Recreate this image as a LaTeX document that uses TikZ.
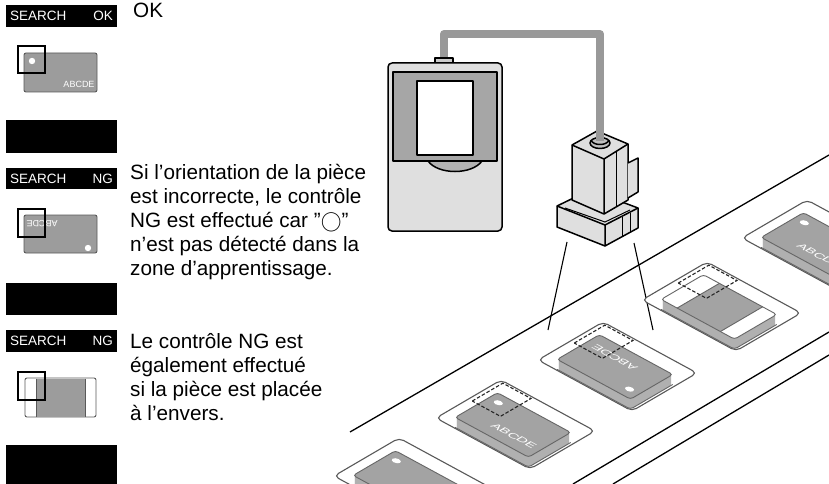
\documentclass[tikz,border=0pt]{standalone}
\usepackage{fontspec}
\setmainfont{Liberation Sans}
\begin{document}
\begin{tikzpicture}[x=1pt,y=-1pt,
  panelblack/.style={fill=black,draw=none},
  cardgray/.style={fill=gray!78,draw=black!65,line width=0.9pt,rounded corners=2pt},
  sqr/.style={draw=black,line width=1.3pt},
  hdr/.style={text=white,font=\fontsize{13.5}{14}\selectfont,inner sep=0pt},
  txt/.style={anchor=north west,align=left,inner sep=0pt,font=\fontsize{20.7}{24}\selectfont},
  dev/.style={draw=black,line width=1.5pt,line join=round},
  tray/.style={draw=black!65,line width=1.1pt,rounded corners=5pt},
  zonedash/.style={draw=black!85,line width=1.1pt,dash pattern=on 3.5pt off 2pt}]
\useasboundingbox (0,0) rectangle (829,484);
\clip (0,0) rectangle (829,484);
% ---------- left panels ----------
\foreach \t/\b/\hb/\wb in {5/153/27/120,168/315/189/283,330/484/352/445}{
  \fill[panelblack] (6,\t) rectangle (117,\b);
  \fill[white] (6,\hb) rectangle (117,\wb);
}
\node[hdr,anchor=west] (h1) at (10,16) {SEARCH};
\node[hdr,anchor=east] (s1) at (113,16) {OK};
\node[hdr,anchor=west] (h2) at (10,178.5) {SEARCH};
\node[hdr,anchor=east] (s2) at (113,178.5) {NG};
\node[hdr,anchor=west] (h3) at (10,341) {SEARCH};
\node[hdr,anchor=east] (s3) at (113,341) {NG};
% panel 1
\draw[cardgray] (24,53) rectangle (97,92);
\fill[white] (32,61) circle (3.2);
\node[text=white,inner sep=0pt,font=\fontsize{9}{10}\selectfont] (c1) at (79,84) {ABCDE};
\draw[sqr] (18,46) rectangle (45,73);
% panel 2
\draw[cardgray] (24,215) rectangle (97,253);
\fill[white] (88,248) circle (3.2);
\node[text=white,inner sep=0pt,rotate=180,font=\fontsize{9}{10}\selectfont] (c2) at (42,224) {ABCDE};
\draw[sqr] (18,209) rectangle (45,237);
% panel 3
\draw[fill=white,draw=black!65,line width=0.9pt,rounded corners=2pt] (25,378) rectangle (96,417);
\fill[gray!78] (36,378.5) rectangle (85,416.5);
\draw[black!65,line width=0.9pt] (36,378.5) -- (36,416.5) (85,378.5) -- (85,416.5);
\draw[sqr] (18,372) rectangle (45,400);
% texts
\node[txt] (t1) at (133,3) {OK};
\node[txt] (t2) at (130,164) {Si l'orientation de la pièce\\est incorrecte, le contrôle\\NG est effectué car "$\bigcirc$"\\n'est pas détecté dans la\\zone d'apprentissage.};
\node[txt] (t3) at (130,333) {Le contrôle NG est\\également effectué\\si la pièce est placée\\à l'envers.};
% ---------- controller ----------
\draw[black!40,line width=8pt,line join=round] (444,62) -- (444,34) -- (600,34) -- (600,138);
\draw[dev,fill=gray!40] (435,58) rectangle (453,64);
\draw[dev,fill=gray!25,rounded corners=4pt] (388,63) rectangle (502,231);
\draw[dev,fill=gray!70] (393,72) rectangle (497,161);
\draw[dev,fill=white] (417,81) rectangle (473,155);
\draw[dev,fill=gray!60] (428,161) .. controls (438,175) and (472,175) .. (482,161) -- cycle;
% ---------- sensor ----------
\draw[dev,fill=gray!25] (557,206) -- (590,190) -- (638,208) -- (638,228) -- (605,246) -- (557,227) -- cycle;
\draw[dev] (557,206) -- (605,225) -- (638,208) (605,225) -- (605,246);
\draw[line width=1pt] (565,208) -- (605,222) -- (630,210);
\draw[line width=1pt] (622,217) -- (622,237) (630,213) -- (630,233);
\draw[dev,fill=gray!25] (572,145) -- (597,131) -- (628,144) -- (628,200) -- (604,214) -- (572,200) -- cycle;
\draw[dev] (572,145) -- (604,159) -- (628,144) (604,159) -- (604,214);
\draw[dev,fill=gray!25] (628,163) -- (638,158) -- (638,192) -- (628,198);
\draw[line width=1pt] (616,152) -- (616,207);
\draw[dev,fill=gray!50] (600,143) ellipse (10 and 5.5);
\draw[black!40,line width=8pt] (600,130) -- (600,141);
\draw[dev] (591,140) .. controls (593,146) and (607,146) .. (609,140);
\draw[line width=1.1pt] (567,242) -- (548,330) (634,243) -- (653,330);
% ---------- conveyor ----------
\draw[line width=1.3pt] (350,432) -- (829,155);
\draw[line width=1.3pt] (573,484) -- (829,332);
\draw[line width=1.3pt] (613,484) -- (829,355);
\foreach \Lx/\Ly/\kind in {334/476/1,436/418/2,538/360/3,642/300/4,742/238/5}{
  \begin{scope}[shift={(\Lx,\Ly)},cm={0.94,-0.51,0.65,0.38,(0,0)},x=100pt,y=100pt]
    \draw[tray,fill=white] (0,0) rectangle (1,1);
  \end{scope}
  \foreach \s in {1,...,10}{
    \begin{scope}[shift={(\Lx,\Ly)},yshift=-\s pt,cm={0.94,-0.51,0.65,0.38,(0,0)},x=100pt,y=100pt]
      \fill[gray!62,rounded corners=3pt] (0.10,0.15) rectangle (0.88,0.80);
    \end{scope}}
  \begin{scope}[shift={(\Lx,\Ly)},yshift=-10pt,cm={0.94,-0.51,0.65,0.38,(0,0)},x=100pt,y=100pt]
    \draw[black!60,line width=0.9pt,rounded corners=3pt] (0.10,0.15) -- (0.88,0.15) -- (0.88,0.80);
  \end{scope}
  \begin{scope}[shift={(\Lx,\Ly)},cm={0.94,-0.51,0.65,0.38,(0,0)},x=100pt,y=100pt,transform shape]
    \ifnum\kind=4
      \fill[white,rounded corners=3pt] (0.10,0.15) rectangle (0.88,0.80);
      \fill[gray!72] (0.27,0.15) rectangle (0.73,0.80);
      \draw[black!60,line width=0.9pt] (0.27,0.15) -- (0.27,0.80) (0.73,0.15) -- (0.73,0.80);
      \draw[black!60,line width=0.9pt,rounded corners=3pt] (0.10,0.15) rectangle (0.88,0.80);
    \else
      \draw[fill=gray!72,draw=black!60,line width=0.9pt,rounded corners=3pt] (0.10,0.15) rectangle (0.88,0.80);
      \ifnum\kind=3
        \fill[white] (0.78,0.28) circle (0.04);
        \node[text=white,inner sep=0pt,rotate=180,font=\fontsize{13}{14}\selectfont] at (0.40,0.60) {ABCDE};
      \else
        \fill[white] (0.20,0.67) circle (0.04);
        \ifnum\kind>1
        \node[text=white,inner sep=0pt,font=\fontsize{13}{14}\selectfont] at (0.60,0.33) {ABCDE};
        \fi
      \fi
    \fi
    \ifnum\kind>1 \ifnum\kind<5 \draw[zonedash] (0.04,0.50) rectangle (0.34,0.97); \fi\fi
  \end{scope}
}
\end{tikzpicture}
\end{document}
